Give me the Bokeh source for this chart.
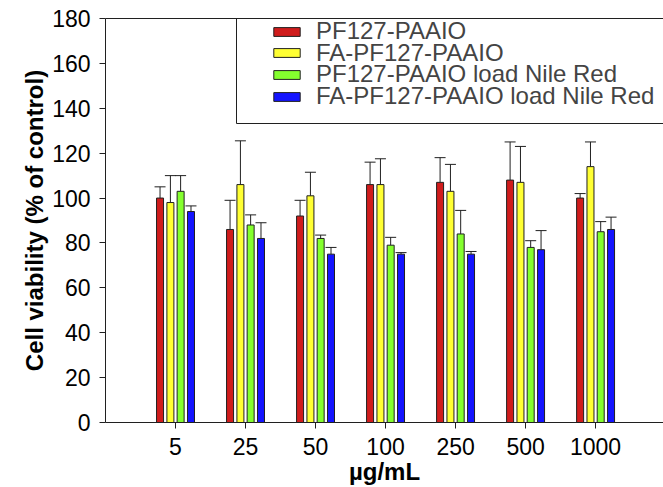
import numpy as np
from bokeh.plotting import figure
from bokeh.models import (ColumnDataSource, Whisker, TeeHead, Legend, LegendItem,
                          FixedTicker, LinearAxis, Range1d, BoxAnnotation)
from bokeh.embed import file_html
from bokeh.resources import INLINE

# ---- data ----
concentrations = ["5", "25", "50", "100", "250", "500", "1000"]
series_names = ["PF127-PAAIO", "FA-PF127-PAAIO",
                "PF127-PAAIO load Nile Red", "FA-PF127-PAAIO load Nile Red"]
pf127 = [100, 86, 92, 106, 107, 108, 100]
pf127_err = [5, 13, 7, 10, 11, 17, 2]
fa_pf127 = [98, 106, 101, 106, 103, 107, 114]
fa_pf127_err = [12, 19.5, 10.5, 11.5, 12, 16, 11]
pf127_nr = [103, 88, 82, 79, 84, 78, 85]
pf127_nr_err = [7, 4.5, 1.5, 3.5, 10.5, 3, 4.5]
fa_pf127_nr = [94, 82, 75, 75, 75, 77, 86]
fa_pf127_nr_err = [2.5, 7, 3, 0.7, 1.2, 8.5, 5.5]
y_ticks = [0, 20, 40, 60, 80, 100, 120, 140, 160, 180]

values = [pf127, fa_pf127, pf127_nr, fa_pf127_nr]
errors = [pf127_err, fa_pf127_err, pf127_nr_err, fa_pf127_nr_err]
colors = ["#D01C1C", "#FFFF33", "#84FF2E", "#1414FF"]
offsets = [-0.221, -0.073, 0.073, 0.221]
FONT = "Liberation Sans"

p = figure(width=663, height=487, output_backend="svg", toolbar_location=None,
           x_range=Range1d(0, 7.97), y_range=Range1d(0, 180),
           min_border_left=105, min_border_right=0, min_border_top=18,
           min_border_bottom=65)
p.outline_line_color = None
p.xgrid.visible = False
p.ygrid.visible = False
p.background_fill_color = "white"
p.border_fill_color = "white"

base_x = np.arange(1, len(concentrations) + 1)
renderers = []
for vals, errs, col, off in zip(values, errors, colors, offsets):
    v = np.array(vals, dtype=float)
    e = np.array(errs, dtype=float)
    src = ColumnDataSource(dict(x=base_x + off, top=v, upper=v + e))
    r = p.vbar(x="x", top="top", width=0.1, bottom=0, source=src,
               fill_color=col, line_color="#202020", line_width=1)
    renderers.append(r)
    w = Whisker(base="x", upper="upper", lower="top", source=src,
                upper_head=TeeHead(size=11, line_color="#202020", line_width=1),
                lower_head=None, line_color="#202020", line_width=1)
    p.add_layout(w)

# axes
p.xaxis.ticker = FixedTicker(ticks=list(base_x))
p.xaxis.major_label_overrides = {int(i): c for i, c in zip(base_x, concentrations)}
p.xaxis.axis_label = "µg/mL"
p.yaxis.ticker = FixedTicker(ticks=y_ticks)
p.yaxis.axis_label = "Cell viability (% of control)"
for ax in (p.xaxis, p.yaxis):
    ax.axis_line_color = "#202020"
    ax.axis_line_width = 1
    ax.major_tick_line_color = "#202020"
    ax.major_tick_in = 0
    ax.major_tick_out = 6
    ax.minor_tick_line_color = None
    ax.major_label_text_font = FONT
    ax.major_label_text_font_size = "23px"
    ax.major_label_text_color = "black"
    ax.axis_label_text_font = FONT
    ax.axis_label_text_font_size = "24px"
    ax.axis_label_text_font_style = "bold"
    ax.axis_label_text_color = "black"
p.xaxis.major_label_standoff = 9
p.xaxis.axis_label_standoff = 0
p.yaxis.major_label_standoff = 9
p.yaxis.axis_label_standoff = 1

top_axis = LinearAxis(ticker=FixedTicker(ticks=[]), major_label_text_font_size="0px",
                      axis_line_color="#202020", major_tick_line_color=None,
                      minor_tick_line_color=None)
p.add_layout(top_axis, "above")

# legend frame
box = BoxAnnotation(left=131, right=600, bottom=299, top=404,
                    left_units="screen", right_units="screen",
                    bottom_units="screen", top_units="screen",
                    fill_alpha=0, line_color="#202020", line_width=1, line_alpha=1)
p.add_layout(box)

# one single-entry legend per row, so rows can sit closer than Bokeh's default pitch
row_bottoms = [377, 355.3, 333.6, 311.9]
for name, r, vy in zip(series_names, renderers, row_bottoms):
    lg = Legend(items=[LegendItem(label=name, renderers=[r])],
                location=(165, vy), padding=0, spacing=0, margin=0,
                glyph_width=33, glyph_height=11, label_standoff=13,
                label_text_font=FONT, label_text_font_size="24px",
                border_line_color=None, background_fill_alpha=0)
    p.add_layout(lg)

open("out.html", "w").write(file_html(p, INLINE))
